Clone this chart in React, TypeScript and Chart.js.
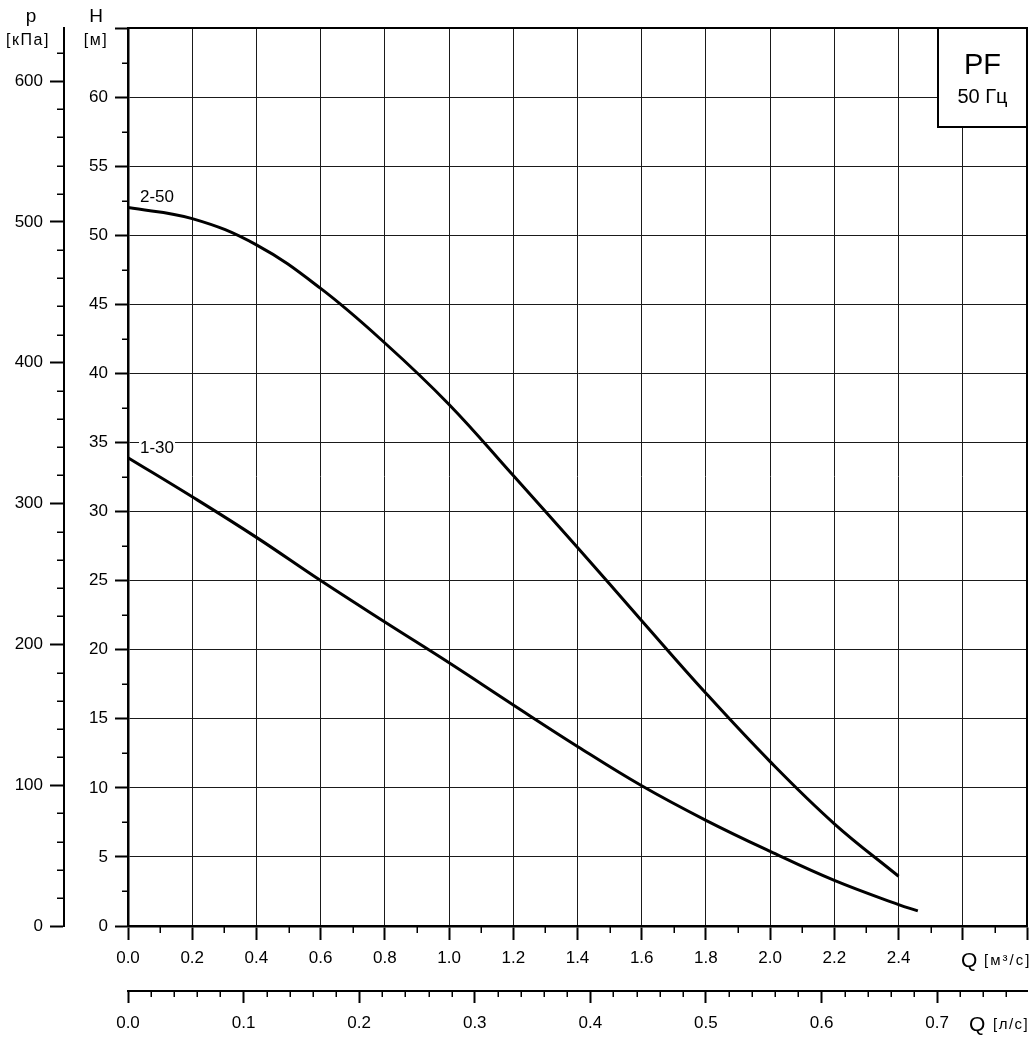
import { useEffect, useRef } from 'react';
import { Chart, registerables } from 'chart.js';

Chart.register(...registerables);

// ---- data ----
const FLOW_2_50 = [0, 0.2, 0.4, 0.6, 0.8, 1.0, 1.2, 1.4, 1.6, 1.8, 2.0, 2.2, 2.4];
const HEAD_2_50 = [52.0, 51.2, 49.3, 46.15, 42.2, 37.75, 32.6, 27.4, 22.1, 16.85, 11.9, 7.4, 3.6];

const FLOW_1_30 = [0, 0.2, 0.4, 0.6, 0.8, 1.0, 1.2, 1.4, 1.6, 1.8, 2.0, 2.2, 2.4, 2.46];
const HEAD_1_30 = [33.9, 31.07, 28.13, 25.0, 22.0, 19.05, 16.0, 13.0, 10.15, 7.65, 5.4, 3.3, 1.55, 1.1];

const SERIES_NAMES = ['2-50', '1-30'];

// ---- axes ----
const Q_MAX = 2.8;
const H_MAX = 65;
const KPA_PER_M = 9.81;
const M3_PER_LS = 3.6;

const Q_TICKS = [0, 0.2, 0.4, 0.6, 0.8, 1.0, 1.2, 1.4, 1.6, 1.8, 2.0, 2.2, 2.4, 2.6, 2.8];
const Q_LABEL_MAX = 2.4;
const H_TICKS = [0, 5, 10, 15, 20, 25, 30, 35, 40, 45, 50, 55, 60, 65];
const H_LABEL_MAX = 60;
const P_TICKS = [0, 100, 200, 300, 400, 500, 600];
const LS_TICKS = [0, 0.1, 0.2, 0.3, 0.4, 0.5, 0.6, 0.7];

const Q_MINOR_STEP = 0.1;
const H_MINOR_STEP = 2.5;
const P_MINOR_STEP = 20;
const LS_MINOR_STEP = 0.02;

const FONT = '"Liberation Sans", Arial, sans-serif';

function minorValues(max: number, step: number, majorStep: number) {
  const out: number[] = [];
  const n = Math.floor(max / step + 1e-6);
  for (let i = 1; i <= n; i++) {
    const v = i * step;
    const r = v / majorStep;
    if (Math.abs(r - Math.round(r)) > 1e-6) out.push(v);
  }
  return out;
}

function spaced(ctx: any, text: string, x: number, y: number, spacing: string) {
  const prev = ctx.letterSpacing;
  ctx.letterSpacing = spacing;
  ctx.fillText(text, x, y);
  ctx.letterSpacing = prev || '0px';
}

const decorPlugin = {
  id: 'decor',
  afterDraw(chart: any) {
    const ctx = chart.ctx as CanvasRenderingContext2D;
    const ca = chart.chartArea;
    const sx = chart.scales.x;
    const sy = chart.scales.y;
    const sp = chart.scales.p;
    const sl = chart.scales.ls;
    ctx.save();

    // top & right frame
    ctx.strokeStyle = '#000';
    ctx.lineWidth = 2;
    ctx.beginPath();
    ctx.moveTo(ca.left, ca.top);
    ctx.lineTo(ca.right, ca.top);
    ctx.lineTo(ca.right, ca.bottom);
    ctx.stroke();

    // minor ticks
    ctx.lineWidth = 1.5;
    ctx.beginPath();
    for (const v of minorValues(H_MAX, H_MINOR_STEP, 5)) {
      const y = Math.round(sy.getPixelForValue(v)) + 0.25;
      ctx.moveTo(sy.right - 6, y);
      ctx.lineTo(sy.right, y);
    }
    for (const v of minorValues(sp.max, P_MINOR_STEP, 100)) {
      const y = Math.round(sp.getPixelForValue(v)) + 0.25;
      ctx.moveTo(sp.right - 7, y);
      ctx.lineTo(sp.right, y);
    }
    for (const v of minorValues(Q_MAX, Q_MINOR_STEP, 0.2)) {
      const x = Math.round(sx.getPixelForValue(v)) + 0.25;
      ctx.moveTo(x, sx.top);
      ctx.lineTo(x, sx.top + 7);
    }
    for (const v of minorValues(sl.max, LS_MINOR_STEP, 0.1)) {
      const x = Math.round(sl.getPixelForValue(v)) + 0.25;
      ctx.moveTo(x, sl.top);
      ctx.lineTo(x, sl.top + 6);
    }
    ctx.stroke();

    ctx.fillStyle = '#000';
    ctx.textBaseline = 'alphabetic';

    // axis titles
    ctx.textAlign = 'center';
    ctx.font = `19px ${FONT}`;
    ctx.fillText('p', sp.right - 33, 22);
    ctx.fillText('H', sy.right - 32, 22);
    ctx.font = `16px ${FONT}`;
    spaced(ctx, '[кПа]', sp.right - 36, 45, '1.5px');
    spaced(ctx, '[м]', sy.right - 32, 45, '1.5px');

    ctx.textAlign = 'left';
    ctx.font = `21px ${FONT}`;
    ctx.fillText('Q', 961, 967);
    ctx.fillText('Q', 969, 1031);
    ctx.font = `15px ${FONT}`;
    spaced(ctx, '[м³/с]', 984, 965, '2px');
    spaced(ctx, '[л/с]', 993, 1029, '1.5px');

    // curve labels
    ctx.font = `17px ${FONT}`;
    const labs = [
      { t: SERIES_NAMES[0], h: HEAD_2_50[0], dy: -6 },
      { t: SERIES_NAMES[1], h: HEAD_1_30[0], dy: -4.5 },
    ];
    for (const l of labs) {
      const x = sx.getPixelForValue(0) + 12;
      const y = sy.getPixelForValue(l.h) + l.dy;
      const w = ctx.measureText(l.t).width;
      ctx.fillStyle = '#fff';
      ctx.fillRect(x - 1, y - 13, w + 2, 14);
      ctx.fillStyle = '#000';
      ctx.fillText(l.t, x, y);
    }

    // PF box
    const bw = 89, bh = 99;
    const bx = ca.right - bw, by = ca.top;
    ctx.fillStyle = '#fff';
    ctx.fillRect(bx, by, bw, bh);
    ctx.strokeStyle = '#000';
    ctx.lineWidth = 2;
    ctx.strokeRect(bx, by, bw, bh);
    ctx.fillStyle = '#000';
    ctx.textAlign = 'center';
    ctx.font = `29px ${FONT}`;
    ctx.fillText('PF', bx + bw / 2, by + 46);
    ctx.font = `20px ${FONT}`;
    ctx.fillText('50 Гц', bx + bw / 2, by + 75);

    ctx.restore();
  },
};

function setTicks(values: number[]) {
  return (s: any) => {
    s.ticks = values.map((v) => ({ value: v }));
  };
}
function fixSize(prop: 'width' | 'height', size: number) {
  return (s: any) => {
    s[prop] = size;
    s.paddingTop = 0;
    s.paddingBottom = 0;
    s.paddingLeft = 0;
    s.paddingRight = 0;
  };
}

const GRID = '#1a1a1a';

export default function App() {
  const ref = useRef<HTMLCanvasElement | null>(null);
  useEffect(() => {
    if (!ref.current) return;
    const chart = new Chart(ref.current, {
      type: 'line',
      data: {
        datasets: [
          {
            label: SERIES_NAMES[0],
            data: FLOW_2_50.map((q, i) => ({ x: q, y: HEAD_2_50[i] })),
            borderColor: '#000',
            borderWidth: 3,
            pointRadius: 0,
            tension: 0.4,
            xAxisID: 'x',
            yAxisID: 'y',
          },
          {
            label: SERIES_NAMES[1],
            data: FLOW_1_30.map((q, i) => ({ x: q, y: HEAD_1_30[i] })),
            borderColor: '#000',
            borderWidth: 3,
            pointRadius: 0,
            tension: 0.4,
            xAxisID: 'x',
            yAxisID: 'y',
          },
        ],
      },
      options: {
        responsive: false,
        animation: false,
        devicePixelRatio: 1,
        layout: { padding: { top: 28, right: 6, left: 0, bottom: 0 } },
        plugins: { legend: { display: false }, tooltip: { enabled: false } },
        scales: {
          x: {
            type: 'linear',
            position: 'bottom',
            weight: 0,
            min: 0,
            max: Q_MAX,
            afterBuildTicks: setTicks(Q_TICKS),
            afterFit: fixSize('height', 65),
            grid: { color: GRID, lineWidth: 1, tickLength: 14, tickWidth: 2, tickColor: '#000' },
            border: { display: true, color: '#000', width: 2.5 },
            ticks: {
              autoSkip: false,
              maxRotation: 0,
              padding: 8,
              color: '#000',
              font: { family: FONT, size: 17 },
              callback: (v: any) => (Number(v) <= Q_LABEL_MAX + 1e-6 ? Number(v).toFixed(1) : ''),
            },
          },
          ls: {
            type: 'linear',
            position: 'bottom',
            weight: 1,
            min: 0,
            max: Q_MAX / M3_PER_LS,
            afterBuildTicks: setTicks(LS_TICKS),
            afterFit: fixSize('height', 47),
            grid: { drawOnChartArea: false, tickLength: 12, tickWidth: 2, tickColor: '#000', color: '#000' },
            border: { display: true, color: '#000', width: 2 },
            ticks: {
              autoSkip: false,
              maxRotation: 0,
              padding: 10,
              color: '#000',
              font: { family: FONT, size: 17 },
              callback: (v: any) => Number(v).toFixed(1),
            },
          },
          y: {
            type: 'linear',
            position: 'left',
            weight: 0,
            min: 0,
            max: H_MAX,
            afterBuildTicks: setTicks(H_TICKS),
            afterFit: fixSize('width', 64),
            grid: { color: GRID, lineWidth: 1, tickLength: 13, tickWidth: 2, tickColor: '#000' },
            border: { display: true, color: '#000', width: 2.5 },
            ticks: {
              autoSkip: false,
              padding: 7,
              color: '#000',
              font: { family: FONT, size: 17 },
              callback: (v: any) => (Number(v) <= H_LABEL_MAX ? String(v) : ''),
            },
          },
          p: {
            type: 'linear',
            position: 'left',
            weight: 1,
            min: 0,
            max: H_MAX * KPA_PER_M,
            afterBuildTicks: setTicks(P_TICKS),
            afterFit: fixSize('width', 64),
            grid: { drawOnChartArea: false, tickLength: 14, tickWidth: 2, tickColor: '#000', color: '#000' },
            border: { display: true, color: '#000', width: 2 },
            ticks: {
              autoSkip: false,
              padding: 7,
              color: '#000',
              font: { family: FONT, size: 17 },
              callback: (v: any) => String(v),
            },
          },
        },
      } as any,
      plugins: [decorPlugin],
    });
    return () => chart.destroy();
  }, []);

  return (
    <div style={{ position: 'absolute', left: 0, top: 0, width: 1033, height: 1038, background: '#fff' }}>
      <canvas ref={ref} width={1033} height={1038} style={{ display: 'block', width: 1033, height: 1038 }} />
    </div>
  );
}
